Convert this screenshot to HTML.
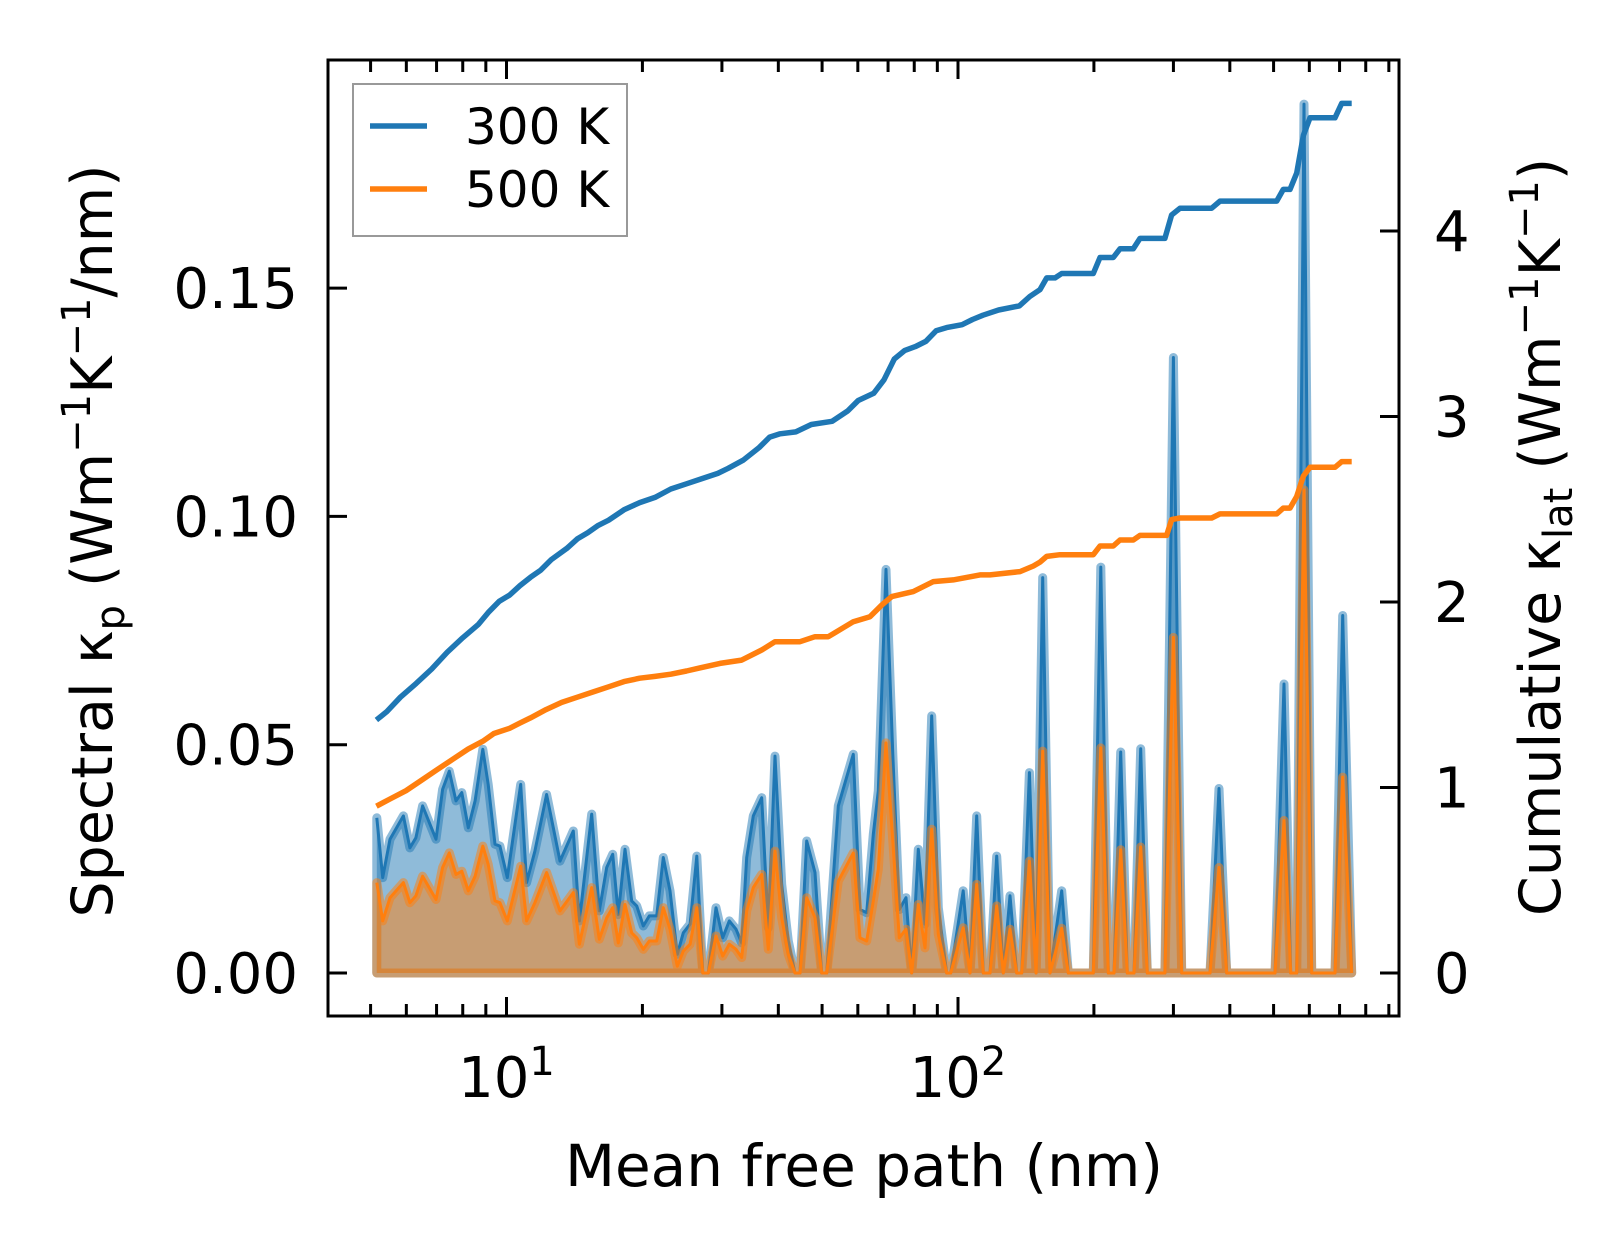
<!DOCTYPE html>
<html><head><meta charset="utf-8"><style>
html,body{margin:0;padding:0;background:#fff;}
svg{display:block;font-family:"DejaVu Sans","Liberation Sans",sans-serif;}
</style></head><body>
<svg id="chart" width="1623" height="1254" viewBox="0 0 1623 1254" xmlns="http://www.w3.org/2000/svg">
<g id="fills"></g><g id="cums"></g><g id="axes"></g>
</svg>
<script>
const mfp=[5.16,5.32,5.52,5.91,6.11,6.30,6.52,6.98,7.22,7.47,7.73,7.96,8.23,8.52,8.86,9.11,9.43,9.67,10.04,10.75,11.08,11.56,12.27,13.14,14.06,14.50,15.44,16.05,16.67,17.19,17.69,18.30,18.94,19.43,20.09,20.72,21.51,22.25,23.02,23.89,24.64,25.50,26.39,27.21,27.99,29.11,30.12,31.15,32.23,33.18,34.04,35.21,36.75,38.01,39.33,40.70,42.09,43.55,44.68,46.23,48.23,49.90,51.20,54.31,58.63,60.67,62.78,64.93,66.61,69.27,71.71,74.13,76.70,78.97,81.68,84.53,87.46,90.45,94.41,96.34,102.7,106.3,110.0,113.8,117.7,121.8,126.0,130.4,134.9,138.4,143.9,148.9,154.0,159.9,169.7,175.5,199.4,207.1,215.2,221.6,229.3,237.1,245.4,253.9,262.6,287.3,299.9,313.0,361.5,378.5,393.7,503.7,527.2,545.6,562.6,583.9,607.3,633.6,683.9,711.4,744.7];
const spec300=[.0340,.0209,.0293,.0344,.0274,.0296,.0366,.0293,.0402,.0442,.0377,.0395,.0318,.0377,.0490,.0413,.0282,.0278,.0209,.0413,.0198,.0267,.0391,.0245,.0311,.0114,.0348,.0136,.0231,.0260,.0128,.0271,.0158,.0147,.0103,.0125,.0125,.0253,.0180,.0041,.0088,.0107,.0256,0,0,.0143,.0077,.0114,.0096,.0066,.0253,.0344,.0384,.0099,.0475,.0194,.0070,0,0,.0289,.0220,0,0,.0366,.0479,.0139,.0132,.0304,.0399,.0884,.0479,.0139,.0165,0,.0271,.0107,.0563,.0143,0,0,.0180,0,.0344,0,0,.0256,0,.0169,0,0,.0439,0,.0866,0,.0180,0,0,.0889,0,0,.0484,0,0,.0491,0,0,.1348,0,0,.0404,0,0,.0633,0,0,.1903,0,0,0,.0783,0];
const spec500=[.0198,.0114,.0165,.0198,.0154,.0169,.0212,.0161,.0231,.0263,.0216,.0223,.0180,.0212,.0278,.0238,.0158,.0154,.0114,.0234,.0114,.0154,.0220,.0136,.0176,.0063,.0187,.0074,.0121,.0143,.0066,.0150,.0088,.0077,.0052,.0070,.0070,.0143,.0096,.0015,.0048,.0063,.0143,0,0,.0081,.0037,.0063,.0052,.0034,.0136,.0187,.0216,.0052,.0267,.0121,.0041,0,0,.0165,.0121,0,0,.0201,.0263,.0077,.0070,.0158,.0227,.0504,.0289,.0077,.0096,0,.0150,.0055,.0315,.0085,0,0,.0099,0,.0194,0,0,.0147,0,.0096,0,0,.0245,0,.0486,0,.0098,0,0,.0493,0,0,.0270,0,0,.0276,0,0,.0735,0,0,.0231,0,0,.0334,0,0,.1058,0,0,0,.0429,0];
const cumX300=[5.15,5.43,5.82,6.31,6.83,7.39,8.00,8.67,9.14,9.63,10.16,10.71,11.30,11.91,12.56,13.60,14.35,15.13,15.96,16.83,18.21,19.72,21.33,23.11,25.04,27.10,29.37,30.97,33.51,36.29,38.28,40.37,43.72,47.33,52.61,56.97,60.10,65.07,68.57,72.26,76.14,80.45,84.84,89.45,94.33,102.1,107.7,113.6,123.0,136.7,144.2,151.9,157.2,164.0,169.7,199.4,206.3,220.8,228.5,244.5,253.0,287.3,297.3,310.3,364.7,380.4,508.0,525.4,543.6,562.6,582.0,602.0,683.9,707.6,744.7];
const cum300=[1.364,1.409,1.487,1.561,1.639,1.729,1.807,1.880,1.947,2.003,2.037,2.088,2.133,2.172,2.228,2.289,2.340,2.373,2.413,2.441,2.497,2.536,2.564,2.609,2.637,2.665,2.693,2.721,2.766,2.833,2.889,2.907,2.917,2.957,2.974,3.030,3.086,3.125,3.198,3.310,3.355,3.377,3.405,3.462,3.479,3.495,3.523,3.546,3.574,3.596,3.647,3.684,3.747,3.747,3.771,3.771,3.857,3.857,3.904,3.904,3.960,3.960,4.086,4.123,4.123,4.161,4.161,4.224,4.224,4.312,4.516,4.610,4.610,4.688,4.688];
const cumX500=[5.15,5.52,5.99,6.48,7.01,7.59,8.22,8.90,9.38,10.16,10.71,11.30,12.23,13.25,14.35,15.54,16.83,18.21,19.72,21.33,23.11,25.04,26.8,29.71,33.18,36.75,39.33,44.68,48.23,51.6,58.63,63.85,67.8,71.3,79.6,88.2,97.6,111.9,117.7,137.2,146.9,151.9,157.2,168.2,199.4,206.3,220.8,228.5,244.5,253.0,289.8,297.3,310.3,364.7,380.4,508.0,525.4,543.6,562.6,582.0,602.0,683.9,707.6,744.7];
const cum500=[.899,.938,.983,1.039,1.095,1.151,1.207,1.252,1.291,1.319,1.347,1.375,1.420,1.459,1.487,1.515,1.543,1.571,1.589,1.599,1.611,1.628,1.645,1.669,1.687,1.741,1.786,1.786,1.813,1.813,1.894,1.921,1.984,2.029,2.056,2.110,2.119,2.146,2.146,2.164,2.194,2.215,2.246,2.255,2.255,2.302,2.302,2.334,2.334,2.359,2.359,2.444,2.453,2.453,2.475,2.475,2.506,2.506,2.569,2.679,2.726,2.726,2.757,2.757];
const leftTicks=[0,0.05,0.10,0.15];
const leftLabels=["0.00","0.05","0.10","0.15"];
const rightTicks=[0,1,2,3,4];
const majorX=[10,100];

const NS="http://www.w3.org/2000/svg";
const L=328,R=1399,T=60,B=1016;
const xs=v=>506.5+(Math.log10(v)-1)*451.5;
const yl=v=>973-v/0.05*228.3;
const yr=v=>973-v*185.5;
function mk(tag,attrs,parent){const e=document.createElementNS(NS,tag);for(const k in attrs)e.setAttribute(k,attrs[k]);parent.appendChild(e);return e;}
const fills=document.getElementById('fills'),cums=document.getElementById('cums'),axes=document.getElementById('axes');

function spectral(vals,col,name){
  let d='M'+xs(mfp[0])+','+yl(0);
  let ln='';
  vals.forEach((v,i)=>{d+=' L'+xs(mfp[i]).toFixed(1)+','+yl(v).toFixed(1);ln+=(i?' L':'M')+xs(mfp[i]).toFixed(1)+','+yl(v).toFixed(1);});
  d+=' L'+xs(mfp[mfp.length-1])+','+yl(0)+' Z';
  const f=mk('path',{d:d,fill:col,'fill-opacity':0.5,stroke:col,'stroke-opacity':0.5,'stroke-width':9,'stroke-linejoin':'round'},fills);
  
  
  const l=mk('path',{d:ln,fill:'none',stroke:col,'stroke-width':3,'stroke-linejoin':'round'},fills);
  
  
}
spectral(spec300,'#1f77b4','spectral-300k');
spectral(spec500,'#ff7f0e','spectral-500k');
function cum(xsArr,vals,col,name){
  let d='';vals.forEach((v,i)=>{d+=(i?' L':'M')+xs(xsArr[i]).toFixed(1)+','+yr(v).toFixed(1);});
  const p=mk('path',{d:d,fill:'none',stroke:col,'stroke-width':5.5,'stroke-linejoin':'round'},cums);
  
  
}
cum(cumX300,cum300,'#1f77b4','cumulative-300k');
cum(cumX500,cum500,'#ff7f0e','cumulative-500k');

const fr=mk('rect',{x:L,y:T,width:R-L,height:B-T,fill:'none',stroke:'#000','stroke-width':3},axes);


for(let dec=1;dec<=100;dec*=10){for(let m=1;m<10;m++){const v=m*dec;const x=xs(v);if(x<L||x>R)continue;
  const major=(m===1);const len=major?19:12;
  mk('line',{x1:x,y1:B,x2:x,y2:B-len,stroke:'#000','stroke-width':3},axes);
  mk('line',{x1:x,y1:T,x2:x,y2:T+len,stroke:'#000','stroke-width':3},axes);
}}
majorX.forEach(v=>{const t=mk('text',{x:xs(v),y:1097,'font-size':56,'text-anchor':'middle'},axes);
  
  
  t.innerHTML='10<tspan dy="-22" font-size="40">'+Math.log10(v)+'</tspan>';});
leftTicks.forEach((v,i)=>{const y=yl(v);mk('line',{x1:L,y1:y,x2:L+19,y2:y,stroke:'#000','stroke-width':3},axes);
  const t=mk('text',{x:298,y:y+20,'font-size':56,'text-anchor':'end'},axes);t.textContent=leftLabels[i];
  
  });
rightTicks.forEach(v=>{const y=yr(v);mk('line',{x1:R,y1:y,x2:R-19,y2:y,stroke:'#000','stroke-width':3},axes);
  const t=mk('text',{x:1434,y:y+20,'font-size':56},axes);t.textContent=v;
  
  });
</script>
<svg style="position:absolute;left:0;top:0" width="1623" height="1254" viewBox="0 0 1623 1254" xmlns="http://www.w3.org/2000/svg" font-family="DejaVu Sans, Liberation Sans, sans-serif">
<text x="864" y="1186" font-size="58" text-anchor="middle">Mean free path (nm)</text>
<text transform="translate(112,541) rotate(-90)" font-size="57" text-anchor="middle">Spectral κ<tspan dy="12" font-size="40">p</tspan><tspan dy="-12"> (Wm</tspan><tspan dy="-22" font-size="40">−1</tspan><tspan dy="22">K</tspan><tspan dy="-22" font-size="40">−1</tspan><tspan dy="22">/nm)</tspan></text>
<text transform="translate(1560,537) rotate(-90)" font-size="57" text-anchor="middle">Cumulative κ<tspan dy="12" font-size="40">lat</tspan><tspan dy="-12"> (Wm</tspan><tspan dy="-22" font-size="40">−1</tspan><tspan dy="22">K</tspan><tspan dy="-22" font-size="40">−1</tspan><tspan dy="22">)</tspan></text>
<g>
<rect x="353" y="84" width="274" height="152" fill="#fff" fill-opacity="0.8" stroke="#999" stroke-width="2"/>
<line x1="370" y1="126" x2="427" y2="126" stroke="#1f77b4" stroke-width="5.5"/>
<text x="465" y="144" font-size="50">300 K</text>
<line x1="370" y1="189" x2="427" y2="189" stroke="#ff7f0e" stroke-width="5.5"/>
<text x="465" y="207" font-size="50">500 K</text>
</g>
</svg>
</body></html>
